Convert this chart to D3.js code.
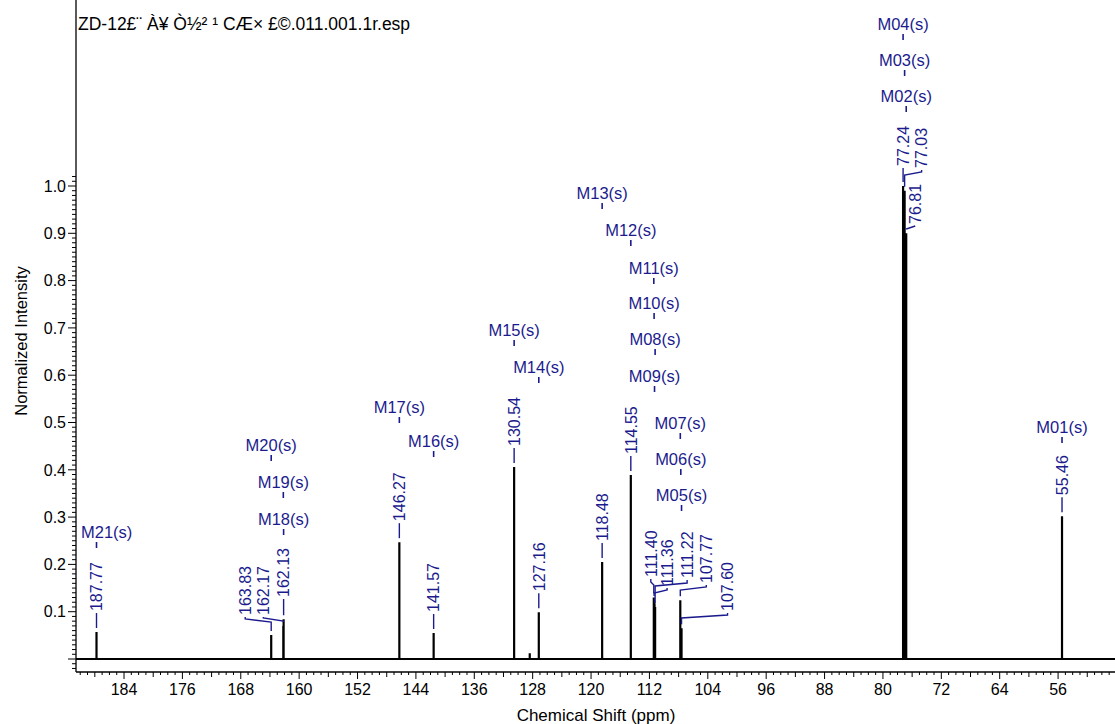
<!DOCTYPE html>
<html>
<head>
<meta charset="utf-8">
<script src="https://cdn.jsdelivr.net/npm/d3@7"></script>
<style>
  html, body { margin: 0; padding: 0; background: #fff; }
  svg text { font-family: "Liberation Sans", Arial, sans-serif; }
</style>
</head>
<body>
<svg id="chart" width="1115" height="724"></svg>
<script>
// 13C spectrum: picked peaks (ppm) and their normalized heights
const peakPpm = [187.77, 163.83, 162.17, 162.13, 146.27, 141.57, 130.54, 127.16, 118.48,
  114.55, 111.40, 111.36, 111.22, 107.77, 107.60, 77.24, 77.03, 76.81, 55.46];
const peakIntensity = [0.057, 0.051, 0.070, 0.084, 0.247, 0.055, 0.406, 0.099, 0.205,
  0.389, 0.130, 0.125, 0.110, 0.124, 0.065, 1.000, 0.990, 0.900, 0.302];

// small unlabeled signals on the baseline
const minorPpm = [128.40, 111.30, 107.68];
const minorIntensity = [0.012, 0.118, 0.060];

// multiplet annotations
const multipletNames = ["M01(s)", "M02(s)", "M03(s)", "M04(s)", "M05(s)", "M06(s)", "M07(s)",
  "M08(s)", "M09(s)", "M10(s)", "M11(s)", "M12(s)", "M13(s)", "M14(s)", "M15(s)", "M16(s)",
  "M17(s)", "M18(s)", "M19(s)", "M20(s)", "M21(s)"];
const multipletPpm = [55.46, 76.81, 77.03, 77.24, 107.60, 107.70, 107.77, 111.22, 111.30,
  111.36, 111.40, 114.55, 118.48, 127.16, 130.54, 141.57, 146.27, 162.13, 162.17, 163.83, 187.77];

// axis ticks
const xTickLabels = [184, 176, 168, 160, 152, 144, 136, 128, 120, 112, 104, 96, 88, 80, 72, 64, 56];
const yTickLabels = ["0.1", "0.2", "0.3", "0.4", "0.5", "0.6", "0.7", "0.8", "0.9", "1.0"];

const titleText = "ZD-12£¨ À¥ Ò½² ¹ CÆ× £©.011.001.1r.esp";

// ---- layout ----
const plotLeft = 76, plotRight = 1115, axisY = 672;
const blue = "#1b1b8e";

const x = d3.scaleLinear().domain([190.58, 48.2]).range([plotLeft, plotRight]);
const y = d3.scaleLinear().domain([0, 1]).range([659, 186]);

// vertical position (px) of each multiplet label's text centre
const multipletTextY = {
  "M01(s)": 427, "M02(s)": 96, "M03(s)": 60, "M04(s)": 24, "M05(s)": 495, "M06(s)": 459,
  "M07(s)": 423, "M08(s)": 339, "M09(s)": 376, "M10(s)": 303, "M11(s)": 268, "M12(s)": 230,
  "M13(s)": 193, "M14(s)": 367, "M15(s)": 330, "M16(s)": 441, "M17(s)": 407, "M18(s)": 519,
  "M19(s)": 482, "M20(s)": 445, "M21(s)": 532
};

// label placement for crowded peaks: text x offset, text bottom, elbow of the leader
const peakLabelLayout = {
  "163.83": { dx: -26, bottom: 615, elbow: 619 },
  "162.17": { dx: -20, bottom: 615, elbow: 618 },
  "162.13": { dx: 0, bottom: 597 },
  "111.40": { dx: -3, bottom: 577, elbow: 582 },
  "111.36": { dx: 13, bottom: 586, elbow: 590 },
  "111.22": { dx: 32, bottom: 578, elbow: 583 },
  "107.77": { dx: 26, bottom: 583, elbow: 587 },
  "107.60": { dx: 46, bottom: 611, elbow: 615 },
  "77.24": { dx: 0, bottom: 166 },
  "77.03": { dx: 17, bottom: 168, elbow: 172 },
  "76.81": { dx: 9, bottom: 224, elbow: 226 }
};

const svg = d3.select("#chart");

// ---- title ----
svg.append("text")
  .attr("x", 78).attr("y", 30)
  .attr("font-size", 17.5).attr("fill", "#000")
  .text(titleText);

// ---- y axis ----
svg.append("line")
  .attr("x1", plotLeft).attr("x2", plotLeft)
  .attr("y1", 0).attr("y2", axisY)
  .attr("stroke", "#000").attr("stroke-width", 1.3);

const yMinor = d3.range(-2, 103).map(i => i / 100);
svg.append("g").selectAll("line").data(yMinor).join("line")
  .attr("x1", plotLeft)
  .attr("x2", d => (Math.round(d * 100) % 10 === 0) ? plotLeft - 8 : plotLeft - 4)
  .attr("y1", d => y(d)).attr("y2", d => y(d))
  .attr("stroke", "#000").attr("stroke-width", 1);

svg.append("g").selectAll("text").data(yTickLabels).join("text")
  .attr("x", 66).attr("y", d => y(+d))
  .attr("dy", "0.36em")
  .attr("text-anchor", "end")
  .attr("font-size", 16)
  .text(d => d);

svg.append("text")
  .attr("transform", "translate(21,341) rotate(-90)")
  .attr("text-anchor", "middle").attr("dy", "0.36em")
  .attr("font-size", 16.5)
  .text("Normalized Intensity");

// ---- x axis ----
svg.append("line")
  .attr("x1", plotLeft).attr("x2", plotRight)
  .attr("y1", axisY).attr("y2", axisY)
  .attr("stroke", "#000").attr("stroke-width", 1.3);

const xMinor = d3.range(190, 48, -1);
svg.append("g").selectAll("line").data(xMinor).join("line")
  .attr("x1", d => x(d)).attr("x2", d => x(d))
  .attr("y1", axisY)
  .attr("y2", d => d % 8 === 0 ? axisY + 7 : (d % 4 === 0 ? axisY + 5 : axisY + 3))
  .attr("stroke", "#000").attr("stroke-width", 1);

svg.append("g").selectAll("text").data(xTickLabels).join("text")
  .attr("x", d => x(d)).attr("y", 689)
  .attr("dy", "0.36em")
  .attr("text-anchor", "middle")
  .attr("font-size", 16)
  .text(d => d);

svg.append("text")
  .attr("x", 596).attr("y", 715).attr("dy", "0.36em")
  .attr("text-anchor", "middle")
  .attr("font-size", 17)
  .text("Chemical Shift (ppm)");

// ---- spectrum trace ----
const sticks = peakPpm.map((p, i) => ({ ppm: p, v: peakIntensity[i] }))
  .concat(minorPpm.map((p, i) => ({ ppm: p, v: minorIntensity[i] })))
  .sort((a, b) => b.ppm - a.ppm);

const tracePts = [[plotLeft, y(0)]];
sticks.forEach(s => {
  tracePts.push([x(s.ppm), y(0)], [x(s.ppm), y(s.v)], [x(s.ppm), y(0)]);
});
tracePts.push([plotRight, y(0)]);

svg.append("path")
  .attr("d", d3.line()(tracePts))
  .attr("fill", "none").attr("stroke", "#000")
  .attr("stroke-width", 2.2).attr("stroke-linejoin", "miter");

// ---- peak value labels ----
const peakG = svg.append("g");
peakPpm.forEach((p, i) => {
  const key = p.toFixed(2);
  const px = x(p);
  const top = y(peakIntensity[i]);
  const lay = peakLabelLayout[key] || { dx: 0, bottom: top - 21 };
  const tx = px + lay.dx;
  let path;
  if (lay.elbow === undefined) {
    path = `M${tx},${lay.bottom + 2}V${top - 4}`;
  } else {
    path = `M${tx},${lay.bottom + 2}V${lay.elbow}L${px},${lay.elbow + 3}V${top - 4}`;
  }
  peakG.append("path").attr("d", path)
    .attr("fill", "none").attr("stroke", blue).attr("stroke-width", 1.4);
  peakG.append("text")
    .attr("transform", `translate(${tx},${lay.bottom}) rotate(-90)`)
    .attr("dy", "0.36em")
    .attr("font-size", 16)
    .attr("fill", blue)
    .text(key);
});

// ---- multiplet labels ----
const multG = svg.append("g");
multipletNames.forEach((name, i) => {
  const px = x(multipletPpm[i]);
  const cy = multipletTextY[name];
  multG.append("line")
    .attr("x1", px).attr("x2", px)
    .attr("y1", cy + 10).attr("y2", cy + 16)
    .attr("stroke", blue).attr("stroke-width", 1.6);
  const t = multG.append("text")
    .attr("x", px).attr("y", cy).attr("dy", "0.36em")
    .attr("text-anchor", "middle")
    .attr("font-size", 16.5)
    .attr("fill", blue)
    .text(name);
  const bb = t.node().getBBox();
  if (bb.x < plotLeft + 5) t.attr("x", px + (plotLeft + 5 - bb.x));
});
</script>
</body>
</html>
